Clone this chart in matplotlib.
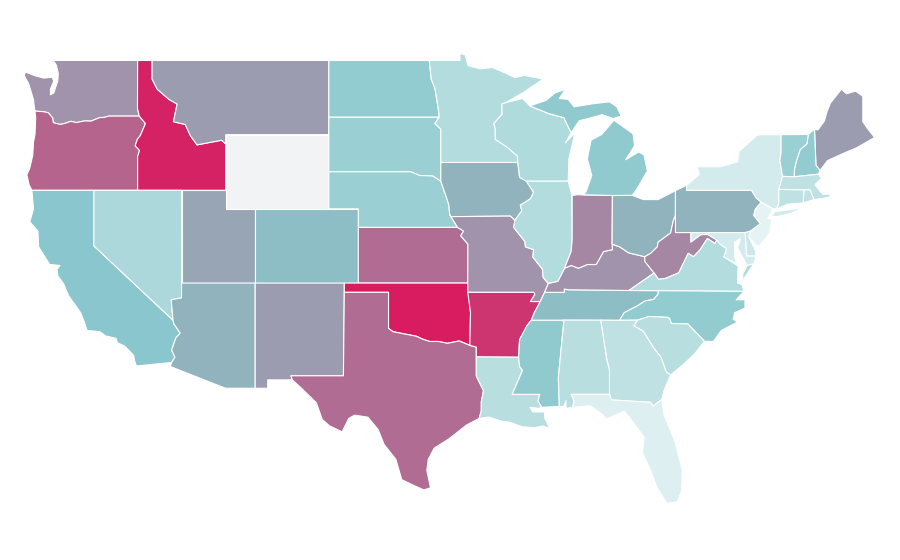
import numpy as np
import matplotlib
matplotlib.use('Agg')
import matplotlib.pyplot as plt
from matplotlib.collections import PolyCollection
from matplotlib.colors import LinearSegmentedColormap

# state outlines as (lon, lat), estimated from the map
WA = [(-122.76,49),(-117.03,49),(-117.04,46.42),(-116.92,46),(-119,46),(-119.3,45.93),(-119.6,45.92),(-120.2,45.73),(-120.65,45.74),(-121.2,45.65),(-121.55,45.72),(-122,45.6),(-122.3,45.55),(-122.76,45.65),(-122.8,45.9),(-123.1,46.18),(-123.43,46.24),(-124,46.27),(-124.07,46.65),(-124.1,46.9),(-124.18,47.1),(-124.43,47.75),(-124.73,48.18),(-124.65,48.38),(-123.98,48.17),(-123.4,48.05),(-122.85,48.1),(-122.72,47.9),(-122.95,47.45),(-122.95,47.15),(-122.72,47.25),(-122.58,47.6),(-122.45,47.9),(-122.42,48.3),(-122.55,48.75)]
OR = [(-124,46.27),(-123.43,46.24),(-123.1,46.18),(-122.8,45.9),(-122.76,45.65),(-122.3,45.55),(-122,45.6),(-121.55,45.72),(-121.2,45.65),(-120.65,45.74),(-120.2,45.73),(-119.6,45.92),(-119.3,45.93),(-119,46),(-116.92,46),(-116.5,45.6),(-116.85,44.95),(-117.05,44.75),(-117.2,44.4),(-116.9,44.15),(-117.03,43.83),(-117.03,42),(-124.21,42),(-124.4,42.3),(-124.55,42.84),(-124.35,43.2),(-124.15,43.9),(-124.1,44.6),(-124,45),(-123.95,45.9)]
ID = [(-117.03,49),(-116.05,49),(-116.05,48),(-115.7,47.45),(-114.9,46.9),(-114.35,46.65),(-114.6,45.7),(-113.8,45.55),(-113.45,44.95),(-113,44.45),(-111.33,44.7),(-111.05,44.5),(-111.05,42),(-117.03,42),(-117.03,43.83),(-116.9,44.15),(-117.2,44.4),(-117.05,44.75),(-116.85,44.95),(-116.5,45.6),(-116.92,46),(-117.04,46.42)]
MT = [(-116.05,49),(-104.05,49),(-104.05,45),(-111.05,45),(-111.05,44.5),(-111.33,44.7),(-113,44.45),(-113.45,44.95),(-113.8,45.55),(-114.6,45.7),(-114.35,46.65),(-114.9,46.9),(-115.7,47.45),(-116.05,48)]
WY = [(-111.05,45),(-104.05,45),(-104.05,41),(-111.05,41)]
CA = [(-124.21,42),(-120,42),(-120,39),(-114.63,35),(-114.57,34.8),(-114.14,34.3),(-114.43,34.05),(-114.72,33.4),(-114.5,33),(-114.72,32.72),(-117.12,32.53),(-117.25,32.85),(-117.3,33.1),(-117.9,33.6),(-118.4,33.78),(-118.5,34.02),(-119.2,34.15),(-119.6,34.38),(-120.47,34.45),(-120.65,34.9),(-120.9,35.4),(-121.7,36.3),(-121.9,36.65),(-122.05,36.95),(-122.45,37.4),(-122.5,37.75),(-122.3,37.95),(-123,38),(-123.75,38.95),(-123.8,39.8),(-124.35,40.3),(-124.1,41)]
NV = [(-120,42),(-114.04,42),(-114.05,36.2),(-114.75,36.1),(-114.63,35),(-120,39)]
UT = [(-114.04,42),(-111.05,42),(-111.05,41),(-109.05,41),(-109.05,37),(-114.05,37)]
AZ = [(-114.05,37),(-109.05,37),(-109.05,31.33),(-111.07,31.33),(-114.81,32.5),(-114.72,32.72),(-114.5,33),(-114.72,33.4),(-114.43,34.05),(-114.14,34.3),(-114.57,34.8),(-114.63,35),(-114.75,36.1),(-114.05,36.2)]
CO = [(-109.05,41),(-102.05,41),(-102.05,37),(-109.05,37)]
NM = [(-109.05,37),(-103,37),(-103.06,32),(-106.62,32),(-106.53,31.78),(-108.2,31.78),(-108.2,31.33),(-109.05,31.33)]
ND = [(-104.05,49),(-97.23,49),(-97.1,48),(-96.85,47.5),(-96.6,46.3),(-96.56,45.94),(-104.05,45.94)]
SD = [(-104.05,45.94),(-96.56,45.94),(-96.85,45.6),(-96.45,45.3),(-96.45,42.49),(-97,42.77),(-97.9,42.8),(-98.5,43),(-104.05,43)]
NE = [(-104.05,43),(-98.5,43),(-97.9,42.8),(-97,42.77),(-96.45,42.49),(-96.1,41.7),(-95.9,41.2),(-95.85,40.7),(-95.31,40),(-102.05,40),(-102.05,41),(-104.05,41)]
KS = [(-102.05,40),(-95.31,40),(-94.9,39.8),(-95.1,39.55),(-94.61,39.1),(-94.62,37),(-102.05,37)]
OK = [(-103,37),(-94.62,37),(-94.43,35.4),(-94.48,33.64),(-95.2,33.88),(-96,33.75),(-96.6,33.85),(-97.2,33.85),(-97.7,33.98),(-98.1,34.13),(-99.2,34.3),(-99.7,34.38),(-100,34.56),(-100,36.5),(-103,36.5)]
TX = [(-103,36.5),(-100,36.5),(-100,34.56),(-99.7,34.38),(-99.2,34.3),(-98.1,34.13),(-97.7,33.98),(-97.2,33.85),(-96.6,33.85),(-96,33.75),(-95.2,33.88),(-94.48,33.64),(-94.04,33.55),(-94.04,31.99),(-93.55,31.2),(-93.7,30.6),(-93.7,30.1),(-93.85,29.7),(-94.7,29.35),(-95.1,29.1),(-95.9,28.6),(-96.9,28.1),(-97.3,27.5),(-97.4,26.9),(-97.15,25.96),(-97.6,25.85),(-98.2,26.06),(-99.1,26.4),(-99.5,27.5),(-100.3,28.3),(-100.7,29.1),(-101.4,29.77),(-102.3,29.88),(-102.7,29.7),(-103.15,28.98),(-104,29.3),(-104.5,29.65),(-104.9,30.55),(-106,31.4),(-106.53,31.78),(-106.62,32),(-103.06,32)]
MN = [(-97.23,49),(-95.15,49),(-95.15,49.38),(-94.8,49.3),(-94.6,48.72),(-93.8,48.55),(-92.95,48.62),(-92,48.3),(-91.4,48.07),(-90.8,48.2),(-89.5,48),(-90.8,47.3),(-92.05,46.72),(-92.3,46.66),(-92.29,46.1),(-92.85,45.6),(-92.75,45.3),(-92.75,44.75),(-91.9,44.3),(-91.25,43.85),(-91.22,43.5),(-96.45,43.5),(-96.45,45.3),(-96.85,45.6),(-96.56,45.94),(-96.6,46.3),(-96.85,47.5),(-97.1,48)]
IA = [(-96.45,43.5),(-91.22,43.5),(-91.1,42.7),(-90.65,42.5),(-90.15,41.9),(-90.35,41.55),(-91.05,41.2),(-90.95,40.9),(-91.42,40.38),(-91.73,40.61),(-95.77,40.58),(-95.85,40.7),(-95.9,41.2),(-96.1,41.7),(-96.45,42.49)]
MO = [(-95.77,40.58),(-91.73,40.61),(-91.42,40.38),(-91.5,40),(-90.75,39.25),(-90.7,38.95),(-90.15,38.8),(-90.2,38.4),(-89.55,37.75),(-89.5,37.3),(-89.15,36.98),(-89.4,36.5),(-89.7,36),(-90.37,36),(-90.07,36.4),(-90.15,36.5),(-94.62,36.5),(-94.61,39.1),(-95.1,39.55),(-94.9,39.8),(-95.31,40),(-95.85,40.7)]
AR = [(-94.62,36.5),(-90.15,36.5),(-90.07,36.4),(-90.37,36),(-89.7,36),(-90.1,35.4),(-90.3,35),(-90.6,34.7),(-91.1,33.95),(-91.17,33),(-94.04,33.02),(-94.04,33.55),(-94.48,33.64),(-94.43,35.4)]
LA = [(-94.04,33.02),(-91.17,33),(-91.1,32.5),(-90.9,32.3),(-91.6,31),(-89.73,31),(-89.85,30.65),(-89.6,30.3),(-89.85,30.25),(-90.4,30.3),(-90.2,30.05),(-89.4,30.05),(-89.4,29.75),(-89.05,29.15),(-89.5,29.3),(-90.1,29.2),(-90.9,29.25),(-91.8,29.5),(-92.3,29.55),(-93.2,29.78),(-93.85,29.7),(-93.7,30.1),(-93.7,30.6),(-93.55,31.2),(-94.04,31.99)]
MS = [(-90.3,35),(-88.2,35),(-88.1,34.9),(-88.47,31.9),(-88.4,30.35),(-89.6,30.3),(-89.85,30.65),(-89.73,31),(-91.6,31),(-90.9,32.3),(-91.1,32.5),(-91.17,33),(-91.1,33.95),(-90.6,34.7)]
TN = [(-90.3,35),(-90.1,35.4),(-89.7,36),(-89.4,36.5),(-88.07,36.5),(-88.07,36.68),(-87.8,36.64),(-83.68,36.6),(-81.68,36.59),(-81.7,36.4),(-82,36.12),(-82.6,36.03),(-83.1,35.77),(-84,35.4),(-84.32,34.99),(-88.2,35)]
KY = [(-89.4,36.5),(-89.15,36.98),(-88.5,37.1),(-88.05,37.8),(-87.6,37.95),(-87.1,37.8),(-86.5,38),(-85.9,38),(-85.4,38.7),(-84.8,38.8),(-84.82,39.1),(-84.3,38.95),(-83.7,38.63),(-82.6,38.42),(-82.6,38.17),(-81.97,37.54),(-83.68,36.6),(-87.8,36.64),(-88.07,36.68),(-88.07,36.5)]
IL = [(-90.65,42.5),(-87.8,42.5),(-87.55,41.72),(-87.53,39.35),(-87.6,38.7),(-88.05,37.8),(-88.5,37.1),(-89.15,36.98),(-89.5,37.3),(-89.55,37.75),(-90.2,38.4),(-90.15,38.8),(-90.7,38.95),(-90.75,39.25),(-91.5,40),(-91.42,40.38),(-90.95,40.9),(-91.05,41.2),(-90.35,41.55),(-90.15,41.9)]
IN = [(-87.53,41.72),(-87.2,41.76),(-84.8,41.72),(-84.82,39.1),(-84.8,38.8),(-85.4,38.7),(-85.9,38),(-86.5,38),(-87.1,37.8),(-87.6,37.95),(-88.05,37.8),(-87.6,38.7),(-87.53,39.35)]
OH = [(-84.8,41.72),(-83.45,41.73),(-82.7,41.5),(-81.7,41.5),(-80.52,41.98),(-80.52,40.64),(-80.65,40.4),(-80.85,39.7),(-81.7,39.2),(-81.75,38.95),(-82.2,38.6),(-82.6,38.42),(-83.7,38.63),(-84.3,38.95),(-84.82,39.1)]
PA = [(-80.52,41.98),(-79.76,42.27),(-79.76,42),(-75.35,42),(-75.05,41.6),(-74.7,41.36),(-75.1,40.97),(-75.2,40.65),(-74.75,40.2),(-75.42,39.8),(-75.79,39.72),(-80.52,39.72),(-80.52,40.64)]
NY = [(-79.76,42.27),(-78.9,42.85),(-79.05,43.27),(-77.5,43.27),(-76.3,43.53),(-76.2,44.1),(-75,44.95),(-74.7,45),(-73.35,45),(-73.35,44),(-73.43,43.6),(-73.25,42.75),(-73.5,42.05),(-73.5,41.3),(-73.65,41),(-73.9,41),(-74.7,41.36),(-75.05,41.6),(-75.35,42),(-79.76,42)]
LONG_ISLAND = [(-74.03,40.6),(-73.75,40.85),(-72.6,40.98),(-71.9,41.07),(-72.7,40.75),(-73.6,40.58)]
NJ = [(-74.7,41.36),(-73.9,41),(-74.25,40.48),(-74,40.45),(-74.1,39.75),(-74.4,39.4),(-74.93,38.93),(-75.55,39.5),(-75.42,39.8),(-74.75,40.2),(-75.2,40.65),(-75.1,40.97)]
DE = [(-75.79,39.72),(-75.42,39.8),(-75.55,39.5),(-75.1,38.78),(-75.05,38.45),(-75.7,38.46)]
MD = [(-79.48,39.72),(-75.79,39.72),(-75.7,38.46),(-75.05,38.45),(-75.2,38.03),(-75.65,37.95),(-75.9,38.3),(-76.3,38.9),(-76.1,39.4),(-76.5,39.2),(-76.5,38.4),(-76.35,38.05),(-77,38.3),(-77.25,38.4),(-77.05,38.85),(-77.5,39.1),(-77.72,39.32),(-78.35,39.62),(-78.8,39.6),(-79.48,39.2)]
WV = [(-80.52,39.72),(-79.48,39.72),(-79.48,39.2),(-78.8,39.6),(-78.35,39.62),(-77.72,39.32),(-77.83,39.13),(-78.35,39.4),(-78.87,38.77),(-79.3,38.42),(-79.65,38.6),(-80.3,37.55),(-81.2,37.25),(-81.67,37.2),(-81.97,37.54),(-82.6,38.17),(-82.6,38.42),(-82.2,38.6),(-81.75,38.95),(-81.7,39.2),(-80.85,39.7),(-80.65,40.4),(-80.52,40.64)]
VA = [(-77.72,39.32),(-77.83,39.13),(-78.35,39.4),(-78.87,38.77),(-79.3,38.42),(-79.65,38.6),(-80.3,37.55),(-81.2,37.25),(-81.67,37.2),(-81.97,37.54),(-83.68,36.6),(-81.68,36.59),(-75.87,36.55),(-76,36.92),(-76.3,37),(-76.3,37.55),(-76.25,37.9),(-77,38.3),(-77.25,38.4),(-77.05,38.85),(-77.5,39.1)]
VA_SHORE = [(-75.65,37.95),(-75.2,38.03),(-75.95,37.15),(-75.95,37.5)]
NC = [(-84.32,34.99),(-84,35.4),(-83.1,35.77),(-82.6,36.03),(-82,36.12),(-81.7,36.4),(-81.68,36.59),(-75.87,36.55),(-76.4,36.1),(-75.8,36.1),(-75.8,35.65),(-76.5,35.4),(-76.6,35.05),(-76.3,34.9),(-77.4,34.45),(-77.95,33.85),(-78.55,33.86),(-79.68,34.8),(-80.8,34.82),(-80.93,35.1),(-81.05,35.15),(-82.3,35.2),(-83.1,35)]
SC = [(-83.1,35),(-82.3,35.2),(-81.05,35.15),(-80.93,35.1),(-80.8,34.82),(-79.68,34.8),(-78.55,33.86),(-79.2,33.2),(-80,32.6),(-80.85,32.05),(-81.15,32.2),(-81.5,33),(-82,33.5),(-82.7,34.4),(-83.35,34.7)]
GA = [(-85.6,35),(-84.32,34.99),(-83.1,35),(-83.35,34.7),(-82.7,34.4),(-82,33.5),(-81.5,33),(-81.15,32.2),(-80.85,32.05),(-81.3,31.2),(-81.45,30.72),(-82.05,30.36),(-82.2,30.57),(-84.86,30.7),(-85,31),(-85,32.3),(-85.18,32.87)]
AL = [(-88.2,35),(-85.6,35),(-85.18,32.87),(-85,32.3),(-85,31),(-87.6,31),(-87.4,30.65),(-87.5,30.3),(-87.95,30.25),(-87.95,30.65),(-88.1,30.35),(-88.4,30.35),(-88.47,31.9),(-88.1,34.9)]
FL = [(-87.6,31),(-85,31),(-84.86,30.7),(-82.2,30.57),(-82.05,30.36),(-81.45,30.72),(-81.3,29.9),(-80.55,28.45),(-80.05,26.9),(-80.1,25.8),(-80.4,25.2),(-81.1,25.13),(-81.75,25.95),(-82.2,26.9),(-82.75,27.85),(-82.65,28.7),(-83.4,29.5),(-84,30.1),(-84.4,29.95),(-85.2,29.68),(-85.45,29.9),(-86.3,30.38),(-87.5,30.3),(-87.4,30.65)]
WI = [(-92.05,46.72),(-90.9,46.95),(-90.4,46.55),(-89.1,46.13),(-88.1,45.92),(-87.6,45.1),(-88,44.55),(-87.35,45.1),(-87.55,44.4),(-87.75,43.7),(-87.8,42.5),(-90.65,42.5),(-91.1,42.7),(-91.22,43.5),(-91.25,43.85),(-91.9,44.3),(-92.75,44.75),(-92.75,45.3),(-92.85,45.6),(-92.29,46.1),(-92.3,46.66)]
MI_LOWER = [(-86.8,41.76),(-84.8,41.72),(-83.45,41.73),(-83.15,42.05),(-82.5,42.95),(-82.42,43),(-82.65,43.9),(-83,44.07),(-83.9,43.65),(-83.3,44.4),(-83.4,45.05),(-84.7,45.78),(-85.1,45.4),(-85.55,45),(-86.25,44.7),(-86.5,43.7),(-86.2,42.8),(-86.6,41.9)]
MI_UPPER = [(-90.4,46.55),(-89.1,46.13),(-88.1,45.92),(-87.6,45.1),(-87.05,45.75),(-86.3,45.9),(-85.5,46.08),(-84.75,45.87),(-84.2,46),(-84.5,46.5),(-85,46.77),(-86.1,46.67),(-87.4,46.5),(-87.8,46.9),(-88.4,46.95),(-88,47.45),(-88.7,47.25),(-89.3,46.85)]
ME = [(-71.08,45.3),(-70.85,45.25),(-70.4,45.75),(-70.25,46.2),(-70,46.7),(-69.25,47.45),(-68.9,47.2),(-68.3,47.35),(-67.8,47.07),(-67.8,45.7),(-67.45,45.3),(-67,44.85),(-68.2,44.3),(-69.1,44),(-70.2,43.6),(-70.7,43.07),(-70.98,43.35)]
NH = [(-71.5,45.01),(-71.08,45.3),(-70.98,43.35),(-70.7,43.07),(-70.82,42.87),(-72.46,42.73),(-72.45,43.1),(-72.3,43.6),(-72.05,44.2),(-71.6,44.5)]
VT = [(-73.35,45),(-71.5,45.01),(-71.6,44.5),(-72.05,44.2),(-72.3,43.6),(-72.45,43.1),(-72.46,42.73),(-73.25,42.75),(-73.43,43.6),(-73.35,44)]
MA = [(-73.5,42.05),(-73.25,42.75),(-72.46,42.73),(-70.82,42.87),(-70.6,42.65),(-71.05,42.3),(-70.7,41.95),(-70.5,41.78),(-70.05,41.8),(-70,41.65),(-70.65,41.55),(-71.12,41.5),(-71.38,42.02),(-71.8,42.02)]
RI = [(-71.8,42.02),(-71.38,42.02),(-71.12,41.5),(-71.85,41.32)]
CT = [(-73.5,42.05),(-71.8,42.02),(-71.85,41.32),(-72.9,41.25),(-73.65,41),(-73.5,41.3)]

outlines = [WA, OR, ID, MT, WY, CA, NV, UT, AZ, CO, NM, ND, SD, NE, KS, OK, TX, MN, IA, MO, AR, LA, MS, TN, KY, IL, IN, OH, PA, NY, LONG_ISLAND, NJ, DE, MD, WV, VA, VA_SHORE, NC, SC, GA, AL, FL, WI, MI_LOWER, MI_UPPER, ME, NH, VT, MA, RI, CT]
# value per outline, same order (Wyoming has no data)
values = [.60, .78, .97, .54, np.nan, .36, .22, .51, .46, .42, .54, .29, .27, .27, .76, 1.0, .76, .20, .46, .60, .90, .18, .30, .42, .60, .20, .66, .46, .46, .08, .08, .02, .11, .08, .66, .20, .20, .29, .18, .16, .18, .05, .21, .30, .30, .54, .29, .27, .16, .15, .16]

ramp_stops = [0, .20, .30, .36, .42, .46, .54, .60, .66, .76, .90, 1]
ramp_colors = ['#eaf5f6', '#b3dcde', '#90cace', '#8ac6cd', '#8dbdc5', '#90b3bd', '#9c9cb0', '#a193ab', '#a587a3', '#b06c92', '#cc3670', '#d91b5f']

cmap = LinearSegmentedColormap.from_list('ramp', list(zip(ramp_stops, ramp_colors)))
cmap.set_bad('#f2f3f5')

fig = plt.figure(figsize=(9, 5.6), dpi=100)
ax = fig.add_axes([0, 0, 1, 1])

states = PolyCollection(outlines, array=np.ma.masked_invalid(values), cmap=cmap, edgecolors='white', linewidths=0.8)
states.set_clim(0, 1)
ax.add_collection(states)

ax.set_xlim(-126.375, -65.275)
ax.set_ylim(22.07, 52.26)
ax.axis('off')

fig.savefig('out.png', dpi=100)
